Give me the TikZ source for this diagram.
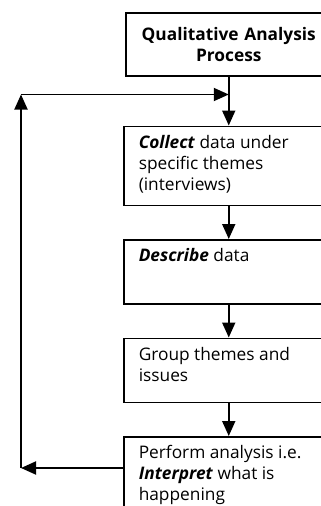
\documentclass[tikz,border=0pt]{standalone}
\usepackage{fontspec}
\setmainfont{Open Sans}
\usetikzlibrary{arrows.meta,positioning,calc}
\newcommand{\boxtxt}[2]{\parbox[c][#1][t]{180pt}{\raggedright #2}}

\begin{document}
\begin{tikzpicture}[
  node distance=33pt,
  stagebox/.style={draw, line width=1.5pt, minimum width=206pt, inner xsep=15pt,
                   inner ysep=9pt, font=\fontsize{17.3}{21}\selectfont},
  arr/.style={-{Triangle[length=15pt,width=13pt]}, line width=1.9pt}
]
\clip (0,0) rectangle (321pt,-506pt);
\node[stagebox, anchor=north west, align=center, text width=196pt, inner xsep=5pt, minimum height=63pt] (head) at (125pt,-12pt)
  {\textbf{Qualitative Analysis}\\\textbf{Process}};
\node[stagebox, below=49pt of head] (collect)
  {\boxtxt{61pt}{\textbf{\textit{Collect}} data under\\specific themes\\(interviews)}};
\node[stagebox, below=of collect] (describe)
  {\boxtxt{46pt}{\textbf{\textit{Describe}} data}};
\node[stagebox, below=of describe] (group)
  {\boxtxt{46pt}{Group themes and\\issues}};
\node[stagebox, below=of group] (perform)
  {\boxtxt{82pt}{Perform analysis i.e.\\\textbf{\textit{Interpret}} what is\\happening}};
% feedback loop
\coordinate (join) at ($(head.south)+(0,-18pt)$);
\coordinate (exit) at ($(perform.north west)+(0,-32pt)$);
\coordinate (loopbot) at ($(exit)+(-102pt,0)$);
\coordinate (looptop) at (loopbot |- join);
\draw[arr] (head) -- (collect);
\draw[arr] (collect) -- (describe);
\draw[arr] (describe) -- (group);
\draw[arr] (group) -- (perform);
\draw[arr] (exit) -- (loopbot);
\draw[arr] (loopbot) -- (looptop);
\draw[arr] (looptop) -- (join);
\end{tikzpicture}
\end{document}
